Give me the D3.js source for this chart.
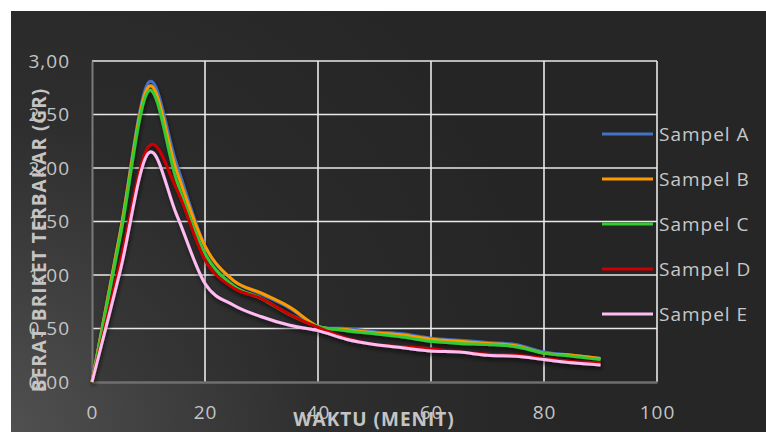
<!DOCTYPE html>
<html>
<head>
<meta charset="utf-8">
<script src="https://cdn.jsdelivr.net/npm/d3@7"></script>
<style>
  body { margin: 0; background: #fff; }
  svg { display: block; }
  text { font-family: "Open Sans", sans-serif; }
</style>
</head>
<body>
<script>
// minutes
const waktu = [0, 5, 10, 15, 20, 25, 30, 35, 40, 45, 50, 55, 60, 65, 70, 75, 80, 85, 90];
const sampelA = [0, 1.40, 2.80, 2.03, 1.27, 0.95, 0.82, 0.69, 0.52, 0.50, 0.47, 0.45, 0.41, 0.39, 0.37, 0.35, 0.28, 0.25, 0.22];
const sampelB = [0, 1.40, 2.76, 1.97, 1.27, 0.95, 0.83, 0.70, 0.52, 0.49, 0.46, 0.44, 0.40, 0.38, 0.36, 0.34, 0.27, 0.25, 0.22];
const sampelC = [0, 1.36, 2.72, 1.88, 1.20, 0.90, 0.78, 0.63, 0.52, 0.48, 0.45, 0.42, 0.38, 0.36, 0.35, 0.33, 0.27, 0.24, 0.21];
const sampelD = [0, 1.12, 2.20, 1.80, 1.14, 0.88, 0.78, 0.63, 0.51, 0.41, 0.35, 0.33, 0.31, 0.28, 0.26, 0.25, 0.22, 0.19, 0.18];
const sampelE = [0, 1.04, 2.14, 1.56, 0.92, 0.72, 0.61, 0.53, 0.48, 0.40, 0.35, 0.32, 0.29, 0.28, 0.25, 0.24, 0.21, 0.18, 0.16];
const names = ["Sampel A", "Sampel B", "Sampel C", "Sampel D", "Sampel E"];
const colors = ["#4472c4", "#ff9900", "#33cc33", "#cc0000", "#ffbdf3"];
const xTicks = [0, 20, 40, 60, 80, 100];
const yTicks = [0, 0.5, 1, 1.5, 2, 2.5, 3];

const w = 766, h = 432;
const svg = d3.select("body").append("svg").attr("width", w).attr("height", h);

const defs = svg.append("defs");
const grad = defs.append("radialGradient")
  .attr("id", "bg").attr("gradientUnits", "userSpaceOnUse")
  .attr("cx", 11).attr("cy", 432).attr("r", 560);
grad.append("stop").attr("offset", "0").attr("stop-color", "#505050");
grad.append("stop").attr("offset", "0.55").attr("stop-color", "#2e2e2e");
grad.append("stop").attr("offset", "1").attr("stop-color", "#262626");

const shadow = defs.append("filter").attr("id", "sh")
  .attr("x", "-10%").attr("y", "-10%").attr("width", "120%").attr("height", "130%");
shadow.append("feDropShadow").attr("dx", 1).attr("dy", 3)
  .attr("stdDeviation", 2).attr("flood-color", "#000").attr("flood-opacity", 0.6);

svg.append("rect").attr("x", 11).attr("y", 11).attr("width", w - 11).attr("height", h - 11)
  .attr("fill", "url(#bg)");

const x = d3.scaleLinear().domain([0, 100]).range([92, 657]);
const y = d3.scaleLinear().domain([0, 3]).range([382, 61]);

// plot area
svg.append("rect").attr("x", x(0)).attr("y", y(3)).attr("width", x(100) - x(0)).attr("height", y(0) - y(3))
  .attr("fill", "#262626").attr("fill-opacity", 0.35);

// grid
svg.append("g").selectAll("line").data(yTicks.slice(1)).enter().append("line")
  .attr("x1", x(0)).attr("x2", x(100)).attr("y1", d => y(d)).attr("y2", d => y(d))
  .attr("stroke", "#e9e9e9").attr("stroke-width", 1.6);
svg.append("g").selectAll("line").data(xTicks.slice(1)).enter().append("line")
  .attr("x1", d => x(d)).attr("x2", d => x(d)).attr("y1", y(0)).attr("y2", y(3))
  .attr("stroke", "#e9e9e9").attr("stroke-width", 1.6);

// axes
const xAxis = svg.append("g").attr("transform", `translate(0, ${y(0)})`)
  .call(d3.axisBottom(x).tickValues(xTicks).tickSize(0).tickPadding(24).tickFormat(d => d));
xAxis.select(".domain").attr("stroke", "#6f6f6f").attr("stroke-width", 2.5);
const yAxis = svg.append("g").attr("transform", `translate(${x(0)}, 0)`)
  .call(d3.axisLeft(y).tickValues(yTicks).tickSize(0).tickPadding(22)
    .tickFormat(d => d3.format(".2f")(d).replace(".", ",")));
yAxis.select(".domain").attr("stroke", "#7a7a7a").attr("stroke-width", 2);
svg.selectAll(".tick text").attr("font-family", "Open Sans").attr("font-size", 19)
  .attr("letter-spacing", 1).attr("fill", "#c4c4c4");
yAxis.selectAll(".tick text").attr("dy", "0.34em");

// lines
const series = [sampelA, sampelB, sampelC, sampelD, sampelE];
const line = d3.line().x((d, i) => x(waktu[i])).y(d => y(d)).curve(d3.curveCatmullRom.alpha(0));
const g = svg.append("g").attr("filter", "url(#sh)");
series.forEach((s, i) => {
  g.append("path").datum(s).attr("d", line)
    .attr("fill", "none").attr("stroke", colors[i]).attr("stroke-width", 3);
});

// legend
const legend = svg.append("g");
const ly = [134, 179, 224, 269, 314];
names.forEach((n, i) => {
  legend.append("line").attr("x1", 602).attr("x2", 653).attr("y1", ly[i]).attr("y2", ly[i])
    .attr("stroke", colors[i]).attr("stroke-width", 3);
  legend.append("text").attr("x", 659).attr("y", ly[i]).attr("dy", "0.36em")
    .attr("font-size", 19).attr("letter-spacing", 1).attr("fill", "#c8c8c8").text(n);
});

// titles
svg.append("text").attr("x", 374).attr("y", 426).attr("text-anchor", "middle")
  .attr("font-size", 19).attr("font-weight", "bold").attr("letter-spacing", 1)
  .attr("fill", "#c4c4c4").text("WAKTU (MENIT)");
svg.append("text").attr("transform", "translate(46, 240) rotate(-90)").attr("text-anchor", "middle")
  .attr("font-size", 19).attr("font-weight", "bold").attr("letter-spacing", 1)
  .attr("fill", "#c4c4c4").text("BERAT BRIKET TERBAKAR (GR)");
</script>
</body>
</html>
